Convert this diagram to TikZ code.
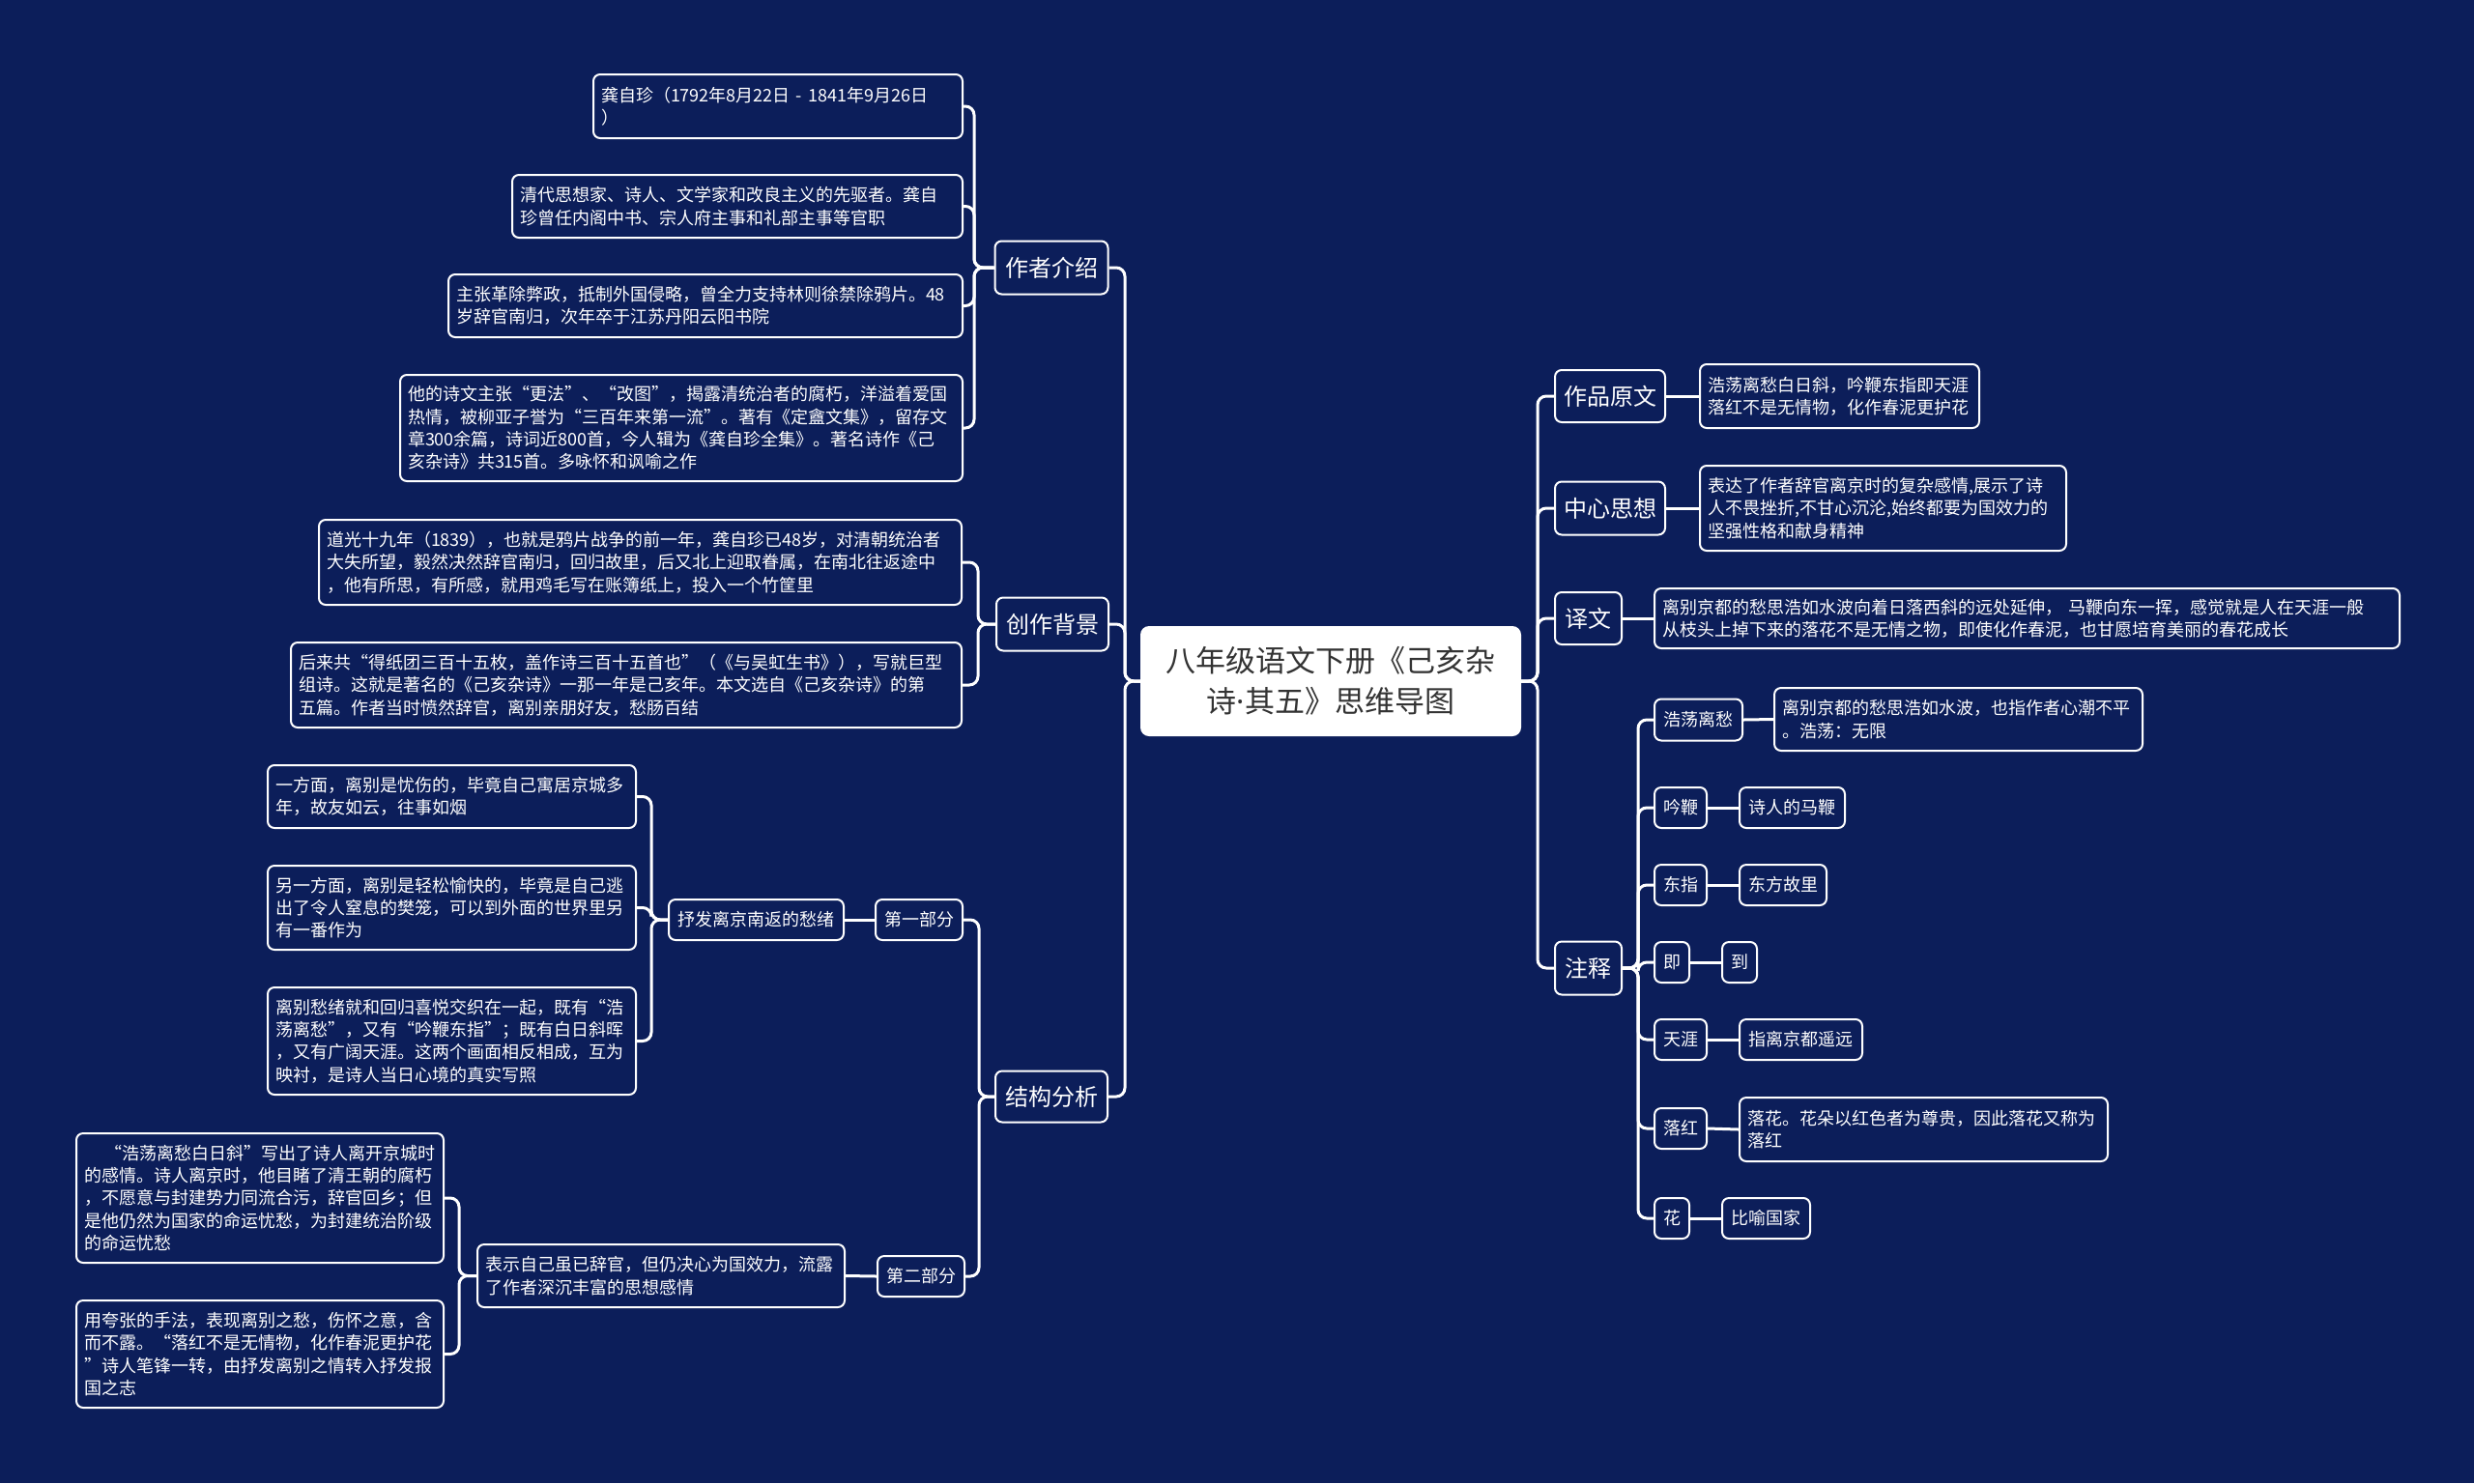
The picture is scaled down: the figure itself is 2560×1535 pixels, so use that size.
\documentclass[tikz,border=0pt]{standalone}
\usepackage{fontspec}
\setmainfont{Noto Sans CJK SC}
\newfontfamily\latinf{Noto Sans}
\definecolor{bg}{RGB}{12,30,90}
\definecolor{ttl}{RGB}{51,51,51}
\newcommand\leaffont{\fontsize{18}{23.3}\selectfont}
\newcommand\mbfont{\fontsize{24}{30}\selectfont}
\newcommand\ttlfont{\fontsize{31}{42}\selectfont}
\tikzset{
  box/.style={draw=white, line width=2pt, rounded corners=7pt, fill=bg, text=white, inner sep=0pt},
  leaf/.style={box, font=\leaffont, align=left},
  tleaf/.style={leaf, inner xsep=8pt, text width=#1},
  mainb/.style={box, font=\mbfont, align=center},
  conn/.style={draw=white, line width=3pt, rounded corners=9pt},
}
\begin{document}
\begin{tikzpicture}[x=1pt,y=-1pt]
\fill[bg] (0,0) rectangle (2560,1535);
\useasboundingbox (0,0) rectangle (2560,1535);

% centre
\node[fill=white, rounded corners=9pt, text=ttl, font=\ttlfont, align=center,
      minimum width=394pt, minimum height=114pt, inner sep=0pt] (C) at (1377,705)
  {八年级语文下册《己亥杂\\诗{\latinf ·}其五》思维导图};

% ---------- left: 作者介绍
\node[mainb, minimum width=117pt, minimum height=55pt] (A) at (1088,277) {作者介绍};
\node[tleaf=366pt, anchor=east, minimum height=66pt] (a1) at (997,110)
  {龚自珍（1792年8月22日 - 1841年9月26日\\）};
\node[tleaf=450pt, anchor=east, minimum height=65pt] (a2) at (997,213.5)
  {清代思想家、诗人、文学家和改良主义的先驱者。龚自\\珍曾任内阁中书、宗人府主事和礼部主事等官职};
\node[tleaf=516pt, anchor=east, minimum height=65pt] (a3) at (997,316.5)
  {主张革除弊政，抵制外国侵略，曾全力支持林则徐禁除鸦片。48\\岁辞官南归，次年卒于江苏丹阳云阳书院};
\node[tleaf=566pt, anchor=east, minimum height=110pt] (a4) at (997,443)
  {他的诗文主张“更法”、“改图”，揭露清统治者的腐朽，洋溢着爱国\\热情，被柳亚子誉为“三百年来第一流”。著有《定盦文集》，留存文\\章300余篇，诗词近800首，今人辑为《龚自珍全集》。著名诗作《己\\亥杂诗》共315首。多咏怀和讽喻之作};

% ---------- left: 创作背景
\node[mainb, minimum width=116pt, minimum height=55pt] (B) at (1089,646) {创作背景};
\node[tleaf=649pt, anchor=east, minimum height=88pt] (b1) at (996,582)
  {道光十九年（1839），也就是鸦片战争的前一年，龚自珍已48岁，对清朝统治者\\大失所望，毅然决然辞官南归，回归故里，后又北上迎取眷属，在南北往返途中\\，他有所思，有所感，就用鸡毛写在账簿纸上，投入一个竹筐里};
\node[tleaf=678pt, anchor=east, minimum height=88pt] (b2) at (996,709)
  {后来共“得纸团三百十五枚，盖作诗三百十五首也”（《与吴虹生书》），写就巨型\\组诗。这就是著名的《己亥杂诗》一那一年是己亥年。本文选自《己亥杂诗》的第\\五篇。作者当时愤然辞官，离别亲朋好友，愁肠百结};

% ---------- left: 结构分析
\node[mainb, minimum width=116pt, minimum height=53pt] (D) at (1088,1135) {结构分析};
\node[leaf, anchor=west, minimum width=90pt, minimum height=42pt] (d1) at (905,952) {第一部分};
\node[leaf, anchor=west, minimum width=181pt, minimum height=42pt] (d1a) at (691,952) {抒发离京南返的愁绪};
\node[tleaf=365pt, anchor=west, minimum height=65pt] (d1a1) at (276,824.5)
  {一方面，离别是忧伤的，毕竟自己寓居京城多\\年，故友如云，往事如烟};
\node[tleaf=365pt, anchor=west, minimum height=87pt] (d1a2) at (276,939.5)
  {另一方面，离别是轻松愉快的，毕竟是自己逃\\出了令人窒息的樊笼，可以到外面的世界里另\\有一番作为};
\node[tleaf=365pt, anchor=west, minimum height=111pt] (d1a3) at (276,1077.5)
  {离别愁绪就和回归喜悦交织在一起，既有“浩\\荡离愁”，又有“吟鞭东指”；既有白日斜晖\\，又有广阔天涯。这两个画面相反相成，互为\\映衬，是诗人当日心境的真实写照};
\node[leaf, anchor=west, minimum width=90pt, minimum height=42pt] (d2) at (907,1321) {第二部分};
\node[tleaf=364pt, anchor=west, minimum height=65pt] (d2a) at (493,1320.5)
  {表示自己虽已辞官，但仍决心为国效力，流露\\了作者深沉丰富的思想感情};
\node[tleaf=364pt, anchor=west, minimum height=134pt] (d2a1) at (78,1240)
  {\hspace*{1.2em}“浩荡离愁白日斜”写出了诗人离开京城时\\的感情。诗人离京时，他目睹了清王朝的腐朽\\，不愿意与封建势力同流合污，辞官回乡；但\\是他仍然为国家的命运忧愁，为封建统治阶级\\的命运忧愁};
\node[tleaf=364pt, anchor=west, minimum height=111pt] (d2a2) at (78,1401.5)
  {用夸张的手法，表现离别之愁，伤怀之意，含\\而不露。“落红不是无情物，化作春泥更护花\\”诗人笔锋一转，由抒发离别之情转入抒发报\\国之志};

% ---------- right
\node[mainb, anchor=west, minimum width=114pt, minimum height=54pt] (R1) at (1608,410) {作品原文};
\node[tleaf=273pt, anchor=west, minimum height=66pt] (r1) at (1758,410)
  {浩荡离愁白日斜，吟鞭东指即天涯\\落红不是无情物，化作春泥更护花};
\node[mainb, anchor=west, minimum width=114pt, minimum height=55pt] (R2) at (1608,526) {中心思想};
\node[tleaf=363pt, anchor=west, minimum height=88pt] (r2) at (1758,526)
  {表达了作者辞官离京时的复杂感情,展示了诗\\人不畏挫折,不甘心沉沦,始终都要为国效力的\\坚强性格和献身精神};
\node[mainb, anchor=west, minimum width=69pt, minimum height=54pt] (R3) at (1608,640) {译文};
\node[tleaf=755pt, anchor=west, minimum height=62pt] (r3) at (1711,640)
  {离别京都的愁思浩如水波向着日落西斜的远处延伸， 马鞭向东一挥，感觉就是人在天涯一般\\从枝头上掉下来的落花不是无情之物，即使化作春泥，也甘愿培育美丽的春花成长};
\node[mainb, anchor=west, minimum width=69pt, minimum height=55pt] (R4) at (1608,1002) {注释};

\node[leaf, anchor=west, minimum width=91pt, minimum height=43pt] (s1) at (1711,745) {浩荡离愁};
\node[tleaf=365pt, anchor=west, minimum height=65pt] (s1a) at (1835,744.5)
  {离别京都的愁思浩如水波，也指作者心潮不平\\。浩荡：无限};
\node[leaf, anchor=west, minimum width=54pt, minimum height=42pt] (s2) at (1711,836) {吟鞭};
\node[leaf, anchor=west, minimum width=109pt, minimum height=42pt] (s2a) at (1799,836) {诗人的马鞭};
\node[leaf, anchor=west, minimum width=54pt, minimum height=42pt] (s3) at (1711,916) {东指};
\node[leaf, anchor=west, minimum width=90pt, minimum height=42pt] (s3a) at (1799,916) {东方故里};
\node[leaf, anchor=west, minimum width=36pt, minimum height=42pt] (s4) at (1711,996) {即};
\node[leaf, anchor=west, minimum width=36pt, minimum height=42pt] (s4a) at (1781,996) {到};
\node[leaf, anchor=west, minimum width=54pt, minimum height=42pt] (s5) at (1711,1076) {天涯};
\node[leaf, anchor=west, minimum width=127pt, minimum height=42pt] (s5a) at (1799,1076) {指离京都遥远};
\node[leaf, anchor=west, minimum width=54pt, minimum height=42pt] (s6) at (1711,1168) {落红};
\node[tleaf=365pt, anchor=west, minimum height=66pt] (s6a) at (1799,1169)
  {落花。花朵以红色者为尊贵，因此落花又称为\\落红};
\node[leaf, anchor=west, minimum width=36pt, minimum height=42pt] (s7) at (1711,1261) {花};
\node[leaf, anchor=west, minimum width=91pt, minimum height=42pt] (s7a) at (1781,1261) {比喻国家};

% ---------- trunk coordinates
\coordinate (TL) at (1164,0);
\coordinate (TA) at (1008,0);
\coordinate (TB) at (1012,0);
\coordinate (TD) at (1013,0);
\coordinate (TD1) at (674,0);
\coordinate (TD2) at (475,0);
\coordinate (TR) at (1591,0);
\coordinate (TS) at (1695,0);

% ---------- connectors
\foreach \c in {A,B,D} \draw[conn] (C.west) -- (C.west -| TL) |- (\c.east);
\foreach \c in {a1,a2,a3,a4} \draw[conn] (A.west) -- (A.west -| TA) |- (\c.east);
\foreach \c in {b1,b2} \draw[conn] (B.west) -- (B.west -| TB) |- (\c.east);
\foreach \c in {d1,d2} \draw[conn] (D.west) -- (D.west -| TD) |- (\c.east);
\draw[conn] (d1.west) -- (d1a.east);
\foreach \c in {d1a1,d1a2,d1a3} \draw[conn] (d1a.west) -- (d1a.west -| TD1) |- (\c.east);
\draw[conn] (d2.west) -- (d2a.east);
\foreach \c in {d2a1,d2a2} \draw[conn] (d2a.west) -- (d2a.west -| TD2) |- (\c.east);

\foreach \c in {R1,R2,R3,R4} \draw[conn] (C.east) -- (C.east -| TR) |- (\c.west);
\draw[conn] (R1.east) -- (r1.west);
\draw[conn] (R2.east) -- (r2.west);
\draw[conn] (R3.east) -- (r3.west);
\foreach \c in {s1,s2,s3,s4,s5,s6,s7} \draw[conn] (R4.east) -- (R4.east -| TS) |- (\c.west);
\draw[conn] (s1.east) -- (s1a.west);
\draw[conn] (s2.east) -- (s2a.west);
\draw[conn] (s3.east) -- (s3a.west);
\draw[conn] (s4.east) -- (s4a.west);
\draw[conn] (s5.east) -- (s5a.west);
\draw[conn] (s6.east) -- (s6a.west);
\draw[conn] (s7.east) -- (s7a.west);
\end{tikzpicture}
\end{document}
